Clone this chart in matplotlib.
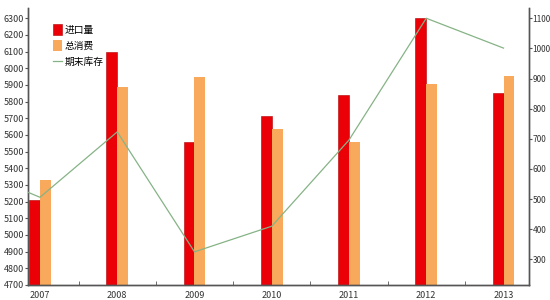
import numpy as np
import matplotlib
matplotlib.use("Agg")
import matplotlib.pyplot as plt
from matplotlib.patches import Patch
from matplotlib.lines import Line2D

plt.rcParams['font.family'] = ['Liberation Sans Narrow', 'Noto Sans CJK SC', 'DejaVu Sans']

years = ['2007', '2008', '2009', '2010', '2011', '2012', '2013']
imports = [5212, 6100, 5556, 5716, 5840, 6300, 5854]       # 进口量
consumption = [5328, 5890, 5946, 5634, 5560, 5906, 5954]   # 总消费
# 期末库存, first value belongs to the year before 2007 (clipped by the axis)
stock = [613, 506, 723, 325, 410, 696, 1100, 1001]

red = '#EC0008'
orange = '#F8A95B'
green = '#86B386'
axis_col = '#555555'

fig = plt.figure(figsize=(5.5, 3.0), dpi=100)
ax = fig.add_axes([28 / 550, 15 / 300, 501 / 550, 277 / 300])
x = np.arange(len(years))
w = 0.142

ax.bar(x - w / 2, imports, w, color=red, edgecolor='#B00000', linewidth=0.4, zorder=2)
ax.bar(x + w / 2, consumption, w, color=orange, linewidth=0, zorder=2)
ax.set_ylim(4700, 6362)
ax.set_yticks(np.arange(4700, 6301, 100))
ax.set_xlim(-0.155, 6.33)
ax.set_xticks(x)
ax.set_xticklabels(years)
ax.set_xticks(x[:-1] + 0.5, minor=True)
ax.tick_params(axis='x', which='major', length=0, pad=4, labelsize=6.5, colors='#333333')
ax.tick_params(axis='x', which='minor', length=3, direction='in', color=axis_col)
ax.tick_params(axis='y', length=2, width=0.8, pad=1, labelsize=6.5, colors='#333333', color=axis_col)

ax2 = ax.twinx()
xs = np.arange(-1, len(years))
ax2.plot(xs, stock, color=green, linewidth=0.9, zorder=3)
ax2.set_ylim(215, 1134)
ax2.set_yticks(np.arange(300, 1101, 100))
ax2.tick_params(axis='y', length=2, width=0.8, pad=0.6, labelsize=6, colors='#333333', color=axis_col)

for a in (ax, ax2):
    a.spines['top'].set_visible(False)
    for s in ('left', 'right', 'bottom'):
        a.spines[s].set_color(axis_col)
        a.spines[s].set_linewidth(1.0)

handles = [Patch(facecolor=red, edgecolor='#B00000', linewidth=0.4),
           Patch(facecolor=orange),
           Line2D([0], [0], color=green, linewidth=0.9)]
labels = ['进口量', '总消费', '期末库存']
ax.legend(handles, labels, loc='upper left', bbox_to_anchor=(0.043, 0.955),
          frameon=False, handlelength=0.85, handleheight=1.3,
          handletextpad=0.25, labelspacing=0.55, borderaxespad=0,
          prop={'family': ['Noto Sans CJK SC', 'DejaVu Sans'], 'size': 7})

fig.savefig('out.png', dpi=100)
